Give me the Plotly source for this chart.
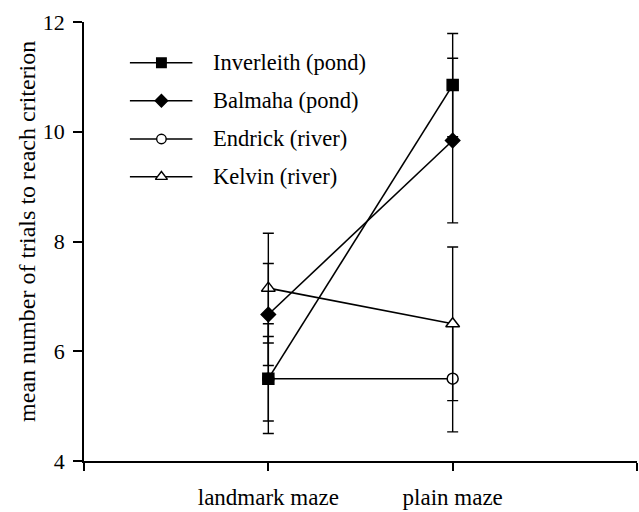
import plotly.graph_objects as go

# ---- data ----
conditions = ["landmark maze", "plain maze"]
x_pos = [0, 1]

inverleith = [5.5, 10.85]
inverleith_err = [1.0, 0.94]
balmaha = [6.67, 9.84]
balmaha_err = [0.93, 1.5]
endrick = [5.5, 5.5]
endrick_err = [0.77, 0.97]
kelvin = [7.15, 6.5]
kelvin_err = [1.0, 1.4]

series_names = ["Inverleith (pond)", "Balmaha (pond)", "Endrick (river)", "Kelvin (river)"]

y_ticks = [4, 6, 8, 10, 12]
y_title = "mean number of trials to reach criterion"

FONT = "Liberation Serif"

styles = {
    "Inverleith (pond)": dict(symbol="square", size=11, color="black"),
    "Balmaha (pond)": dict(symbol="diamond", size=11, color="black"),
    "Endrick (river)": dict(symbol="circle", size=11, color="white"),
    "Kelvin (river)": dict(symbol="triangle-up", size=12, color="white"),
}
data = {
    "Inverleith (pond)": (inverleith, inverleith_err),
    "Balmaha (pond)": (balmaha, balmaha_err),
    "Endrick (river)": (endrick, endrick_err),
    "Kelvin (river)": (kelvin, kelvin_err),
}

fig = go.Figure()

draw_order = ["Endrick (river)", "Kelvin (river)", "Balmaha (pond)", "Inverleith (pond)"]
for name in draw_order:
    vals, errs = data[name]
    st = styles[name]
    fig.add_trace(go.Scatter(
        x=x_pos, y=vals, mode="lines+markers", name=name, showlegend=False,
        line=dict(color="black", width=1.6),
        marker=dict(symbol=st["symbol"], size=st["size"], color=st["color"],
                    line=dict(color="black", width=1.5)),
        error_y=dict(type="data", array=errs, visible=True, color="black",
                     thickness=1.4, width=5.5),
    ))

# ---- custom legend (drawn on an overlaid unit axis) ----
leg_x_line = [0.083, 0.196]
leg_x_mark = 0.140
leg_x_text = 0.2297
leg_rows = [0.9073, 0.8207, 0.7335, 0.6476]
for name, ry in zip(series_names, leg_rows):
    st = styles[name]
    fig.add_trace(go.Scatter(
        x=leg_x_line, y=[ry, ry], mode="lines", showlegend=False, hoverinfo="skip",
        line=dict(color="black", width=1.6), xaxis="x2", yaxis="y2"))
    fig.add_trace(go.Scatter(
        x=[leg_x_mark], y=[ry], mode="markers", showlegend=False, hoverinfo="skip",
        marker=dict(symbol=st["symbol"], size=st["size"] - 1.5, color=st["color"],
                    line=dict(color="black", width=1.4)),
        xaxis="x2", yaxis="y2"))
    fig.add_annotation(x=leg_x_text, y=ry, xref="paper", yref="paper", text=name,
                       showarrow=False, xanchor="left", yanchor="middle",
                       font=dict(family=FONT, size=22.5, color="black"))

# y-axis title placed as rotated text
fig.add_annotation(x=-0.103, y=0.522, xref="paper", yref="paper", text=y_title,
                   textangle=-90, showarrow=False, xanchor="center", yanchor="middle",
                   font=dict(family=FONT, size=24, color="black"))

fig.update_layout(
    width=639, height=512,
    margin=dict(l=84, r=2, t=22, b=51, autoexpand=False),
    paper_bgcolor="white", plot_bgcolor="white",
    font=dict(family=FONT, size=22, color="black"),
    showlegend=False,
    xaxis=dict(
        range=[-1, 2], tickmode="array", tickvals=[-1, 0, 1, 2],
        ticktext=["", conditions[0], conditions[1], ""],
        showgrid=False, zeroline=False, showline=True, linecolor="black", linewidth=1.5,
        ticks="outside", ticklen=8, tickwidth=1.5, tickcolor="black",
        tickfont=dict(family=FONT, size=23), ticklabelstandoff=7, automargin=False,
    ),
    yaxis=dict(
        range=[4, 12], tickmode="array", tickvals=y_ticks,
        showgrid=False, zeroline=False, showline=True, linecolor="black", linewidth=1.5,
        ticks="outside", ticklen=9, tickwidth=1.5, tickcolor="black",
        tickfont=dict(family=FONT, size=22), ticklabelstandoff=4, automargin=False,
    ),
    xaxis2=dict(range=[0, 1], overlaying="x", visible=False, fixedrange=True),
    yaxis2=dict(range=[0, 1], overlaying="y", visible=False, fixedrange=True, anchor="x2"),
)

fig.write_html("out.html", config={"displayModeBar": False},
               post_script="document.body.style.margin='0px';document.body.style.overflow='hidden';")
